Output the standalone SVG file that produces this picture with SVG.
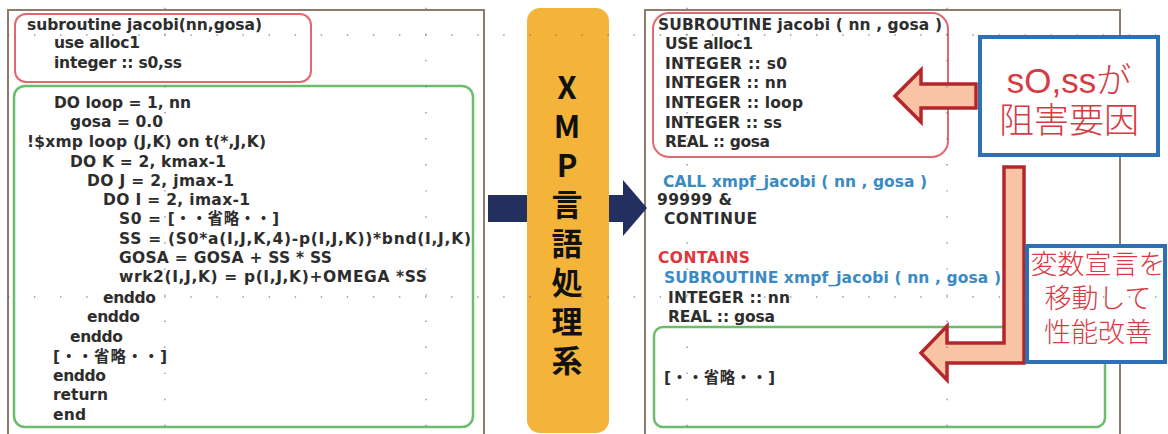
<svg xmlns="http://www.w3.org/2000/svg" width="1168" height="434" viewBox="0 0 1168 434">
  <style>
    .panel { fill: #ffffff; stroke: #8d7b6c; stroke-width: 2; }
    .redbox { fill: none; stroke: #e06870; stroke-width: 2; }
    .greenbox { fill: none; stroke: #6bbd6b; stroke-width: 2.5; }
    .code { font-family: "DejaVu Sans", "Noto Sans CJK JP", sans-serif; font-weight: bold; font-size: 15.5px; fill: #2d2d2d; }
    .blue { fill: #3b8ac4; }
    .red { fill: #e0353c; }
    .proc { font-family: "Noto Sans CJK JP", sans-serif; font-weight: bold; font-size: 31px; fill: #111111;
            writing-mode: vertical-rl; text-orientation: upright; letter-spacing: 8px; }
    .callout { fill: #ffffff; stroke: #2e70b4; stroke-width: 4; }
    .callout-text { font-family: "Liberation Sans", "Noto Sans CJK JP", sans-serif; font-weight: 300; fill: #d83a42; text-anchor: middle; }
    .blockarrow { fill: #f8c4a4; stroke: #b4262c; stroke-width: 3.5; stroke-linejoin: miter; }
    .flow { fill: #23305f; }
    .grid { stroke: #6a6a6a; stroke-width: 1.4; stroke-dasharray: 1.4 24.67; opacity: 0.7; }
  </style>

  <!-- source program -->
  <g id="source-panel">
    <rect class="panel" x="8" y="10" width="476" height="440"/>
    <rect class="redbox" x="15" y="14" width="296" height="68" rx="11"/>
    <rect class="greenbox" x="14" y="86" width="459" height="341" rx="11"/>
    <text class="code" x="27" y="30" textLength="235">subroutine jacobi(nn,gosa)</text>
    <text class="code" x="54" y="48" textLength="86">use alloc1</text>
    <text class="code" x="54" y="68" textLength="128">integer :: s0,ss</text>
    <text class="code" x="54" y="108" textLength="137">DO loop = 1, nn</text>
    <text class="code" x="70" y="127" textLength="93">gosa = 0.0</text>
    <text class="code" x="27" y="147" textLength="239">!$xmp loop (J,K) on t(*,J,K)</text>
    <text class="code" x="70" y="167" textLength="156">DO K = 2, kmax-1</text>
    <text class="code" x="87" y="186" textLength="147">DO J = 2, jmax-1</text>
    <text class="code" x="103" y="205" textLength="147">DO I = 2, imax-1</text>
    <text class="code" x="119" y="224" textLength="160">S0 = [・・省略・・]</text>
    <text class="code" x="119" y="244" textLength="352">SS = (S0*a(I,J,K,4)-p(I,J,K))*bnd(I,J,K)</text>
    <text class="code" x="119" y="263" textLength="213">GOSA = GOSA + SS * SS</text>
    <text class="code" x="119" y="282" textLength="308">wrk2(I,J,K) = p(I,J,K)+OMEGA *SS</text>
    <text class="code" x="103" y="303" textLength="53">enddo</text>
    <text class="code" x="87" y="322" textLength="53">enddo</text>
    <text class="code" x="70" y="342" textLength="53">enddo</text>
    <text class="code" x="53" y="362" textLength="114">[・・省略・・]</text>
    <text class="code" x="53" y="381" textLength="53">enddo</text>
    <text class="code" x="53" y="400" textLength="55">return</text>
    <text class="code" x="53" y="420" textLength="33">end</text>
  </g>

  <!-- translated program -->
  <g id="output-panel">
    <rect class="panel" x="645" y="10" width="475" height="440"/>
    <rect class="redbox" x="653" y="13" width="295" height="144" rx="16"/>
    <rect class="greenbox" x="654" y="327" width="451" height="100" rx="9"/>
    <text class="code" x="658" y="30" textLength="284">SUBROUTINE jacobi ( nn , gosa )</text>
    <text class="code" x="665" y="49" textLength="88">USE alloc1</text>
    <text class="code" x="665" y="69" textLength="122">INTEGER :: s0</text>
    <text class="code" x="665" y="88" textLength="122">INTEGER :: nn</text>
    <text class="code" x="665" y="108" textLength="138">INTEGER :: loop</text>
    <text class="code" x="665" y="128" textLength="117">INTEGER :: ss</text>
    <text class="code" x="665" y="147" textLength="105">REAL :: gosa</text>
    <text class="code blue" x="663" y="187" textLength="264">CALL xmpf_jacobi ( nn , gosa )</text>
    <text class="code" x="657" y="205" textLength="75">99999 &amp;</text>
    <text class="code" x="664" y="224" textLength="93">CONTINUE</text>
    <text class="code red" x="658" y="263" textLength="92">CONTAINS</text>
    <text class="code blue" x="664" y="283" textLength="337">SUBROUTINE xmpf_jacobi ( nn , gosa )</text>
    <text class="code" x="668" y="303" textLength="122">INTEGER :: nn</text>
    <text class="code" x="668" y="322" textLength="107">REAL :: gosa</text>
    <text class="code" x="664" y="383" textLength="111">[・・省略・・]</text>
  </g>

  <g id="connectors">
    <!-- flow into and out of the processor -->
    <polygon id="flow-arrow" class="flow" points="488,195 623,195 623,180 647,208 623,236 623,222 488,222"/>
  </g>

  <!-- XMP language processor, label set vertically -->
  <g id="xmp-processor">
    <rect x="527" y="8" width="82" height="425" rx="13" fill="#f4b43a"/>
    <text class="proc" x="567" y="72">XMP言語処理系</text>
  </g>

  <g id="callout-connectors">
    <polygon id="blocker-arrow" class="blockarrow" points="895,96 921,70 921,84 976,84 976,108 921,108 921,122"/>
    <polygon id="move-arrow" class="blockarrow" points="1004,167 1024,167 1024,363 947,363 947,380 921,353 947,326 947,343 1004,343"/>
  </g>

  <g id="callout-blocker">
    <rect class="callout" x="980" y="37" width="178" height="118"/>
    <text class="callout-text" font-size="35"><tspan x="1069" y="93">sO,ssが</tspan><tspan x="1069" y="133">阻害要因</tspan></text>
  </g>

  <g id="callout-move">
    <rect class="callout" x="1027" y="246" width="138" height="116"/>
    <text class="callout-text" font-size="27"><tspan x="1098" y="274">変数宣言を</tspan><tspan x="1098" y="308">移動して</tspan><tspan x="1098" y="342">性能改善</tspan></text>
  </g>

  <!-- layout guide dots -->
  <g id="guides">
    <line class="grid" x1="7.9" y1="35" x2="1168" y2="35"/>
    <line class="grid" x1="7.9" y1="297" x2="1168" y2="297"/>
    <line class="grid" x1="165" y1="-0.1" x2="165" y2="434" stroke-dashoffset="-7.8"/>
    <line class="grid" x1="426" y1="-0.1" x2="426" y2="434" stroke-dashoffset="-7.8"/>
    <line class="grid" x1="687" y1="-0.1" x2="687" y2="434" stroke-dashoffset="-7.8"/>
    <line class="grid" x1="947" y1="-0.1" x2="947" y2="434" stroke-dashoffset="-7.8"/>
  </g>
</svg>
